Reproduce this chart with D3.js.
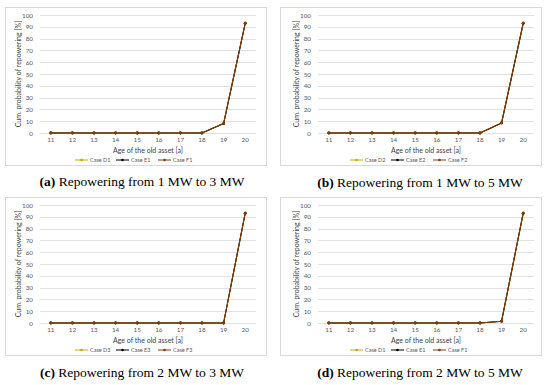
<!DOCTYPE html>
<html>
<head>
<meta charset="utf-8">
<script src="https://cdn.jsdelivr.net/npm/d3@7"></script>
<style>
	body{margin:0;background:#fff;}
	svg text{font-family:Lato, "Open Sans", sans-serif;}
</style>
</head>
<body>
<div id="chart"></div>
<script>
// ages on the x axis
var ages = [11, 12, 13, 14, 15, 16, 17, 18, 19, 20];
var yTicks = [0, 10, 20, 30, 40, 50, 60, 70, 80, 90, 100];

// cumulative probability of repowering [%]
var caseD1 = [0, 0, 0, 0, 0, 0, 0, 0, 8, 93];
var caseE1 = [0, 0, 0, 0, 0, 0, 0, 0, 8, 93];
var caseF1 = [0, 0, 0, 0, 0, 0, 0, 0, 8, 93];

var caseD2 = [0, 0, 0, 0, 0, 0, 0, 0, 8.5, 93];
var caseE2 = [0, 0, 0, 0, 0, 0, 0, 0, 8.5, 93];
var caseF2 = [0, 0, 0, 0, 0, 0, 0, 0, 8.5, 93];

var caseD3 = [0, 0, 0, 0, 0, 0, 0, 0, 0, 93];
var caseE3 = [0, 0, 0, 0, 0, 0, 0, 0, 0, 93];
var caseF3 = [0, 0, 0, 0, 0, 0, 0, 0, 0, 93];

var caseD1b = [0, 0, 0, 0, 0, 0, 0, 0, 1.5, 93];
var caseE1b = [0, 0, 0, 0, 0, 0, 0, 0, 1.5, 93];
var caseF1b = [0, 0, 0, 0, 0, 0, 0, 0, 1.5, 93];

var legendA = ["Case D1", "Case E1", "Case F1"];
var legendB = ["Case D2", "Case E2", "Case F2"];
var legendC = ["Case D3", "Case E3", "Case F3"];
var legendD = ["Case D1", "Case E1", "Case F1"];

var captionLetters = ["(a)", "(b)", "(c)", "(d)"];
var captionTexts = [" Repowering from 1 MW to 3 MW", " Repowering from 1 MW to 5 MW",
	" Repowering from 2 MW to 3 MW", " Repowering from 2 MW to 5 MW"];

var seriesColors = ["#c9a800", "#000000", "#843c0c"];

var panels = [
	{x: 5, y: 7, ml: 35, cx: 142, cy: 186, series: [caseD1, caseE1, caseF1], legend: legendA},
	{x: 280, y: 7, ml: 38, cx: 420, cy: 187, series: [caseD2, caseE2, caseF2], legend: legendB},
	{x: 5, y: 197, ml: 35, cx: 142, cy: 377, series: [caseD3, caseE3, caseF3], legend: legendC},
	{x: 280, y: 197, ml: 38, cx: 420, cy: 377, series: [caseD1b, caseE1b, caseF1b], legend: legendD}
];

var W = 550, H = 385;
var boxW = 261, boxH = 158;

var svg = d3.select("#chart").append("svg")
	.attr("width", W).attr("height", H);

panels.forEach(function(p, k){
	var g = svg.append("g").attr("transform", "translate(" + p.x + "," + p.y + ")");

	g.append("rect")
		.attr("x", 0.5).attr("y", 0.5)
		.attr("width", boxW).attr("height", boxH)
		.attr("fill", "#fff")
		.attr("stroke", "#d9d9d9");

	var left = p.ml, right = p.ml + 216, top = 8, bottom = 126;

	var x = d3.scaleBand().domain(ages).range([left, right]);
	var y = d3.scaleLinear().domain([0, 100]).range([bottom, top]);

	// gridlines
	g.append("g").selectAll("line")
		.data(yTicks)
		.enter().append("line")
		.attr("x1", left).attr("x2", right)
		.attr("y1", function(d){ return Math.round(y(d)) + 0.5; })
		.attr("y2", function(d){ return Math.round(y(d)) + 0.5; })
		.attr("stroke", "#d9d9d9")
		.attr("stroke-width", 0.8);

	// y axis labels
	var yAxis = d3.axisLeft(y).tickValues(yTicks).tickSize(0).tickPadding(7);
	var ya = g.append("g").attr("transform", "translate(" + left + ",0)").call(yAxis);
	ya.select(".domain").remove();
	ya.selectAll("text").attr("fill", "#595959").style("font-size", "6.3px");

	// x axis labels
	var xAxis = d3.axisBottom(x).tickSize(0).tickPadding(5);
	var xa = g.append("g").attr("transform", "translate(0," + bottom + ")").call(xAxis);
	xa.select(".domain").remove();
	xa.selectAll("text").attr("fill", "#595959").style("font-size", "6.3px");

	g.append("text")
		.attr("x", (left + right) / 2).attr("y", 146)
		.attr("text-anchor", "middle")
		.attr("fill", "#404040")
		.style("font-size", "7px")
		.text("Age of the old asset [a]");

	g.append("text")
		.attr("transform", "translate(" + (p.ml - 19) + "," + ((top + bottom) / 2) + ") rotate(-90)")
		.attr("text-anchor", "middle")
		.attr("fill", "#404040")
		.style("font-size", "7px")
		.text("Cum. probability of repowering [%]");

	var line = d3.line()
		.x(function(d, i){ return x(ages[i]) + x.bandwidth() / 2; })
		.y(function(d){ return y(d); });

	p.series.forEach(function(s, j){
		var sg = g.append("g");
		sg.append("path")
			.attr("d", line(s))
			.attr("fill", "none")
			.attr("stroke", seriesColors[j])
			.attr("stroke-width", 1.1)
			.attr("stroke-linejoin", "round");
		sg.selectAll("circle")
			.data(s)
			.enter().append("circle")
			.attr("cx", function(d, i){ return x(ages[i]) + x.bandwidth() / 2; })
			.attr("cy", function(d){ return y(d); })
			.attr("r", 1.4)
			.attr("fill", seriesColors[j]);
	});

	// legend
	var lx = [70, 111, 153];
	var lg = g.append("g").attr("transform", "translate(0," + 153 + ")");
	p.legend.forEach(function(name, j){
		lg.append("line")
			.attr("x1", lx[j]).attr("x2", lx[j] + 13)
			.attr("y1", 0).attr("y2", 0)
			.attr("stroke", seriesColors[j]).attr("stroke-width", 1);
		lg.append("circle")
			.attr("cx", lx[j] + 6.5).attr("cy", 0).attr("r", 1.3)
			.attr("fill", seriesColors[j]);
		lg.append("text")
			.attr("x", lx[j] + 15).attr("y", 0)
			.attr("dy", "0.35em")
			.attr("fill", "#595959")
			.style("font-size", "5.5px")
			.text(name);
	});

	// caption, fitted to the width seen in the picture
	var cap = svg.append("text")
		.attr("x", p.cx)
		.attr("y", p.cy)
		.attr("text-anchor", "start")
		.style("font-family", "'Liberation Serif', 'DejaVu Serif', serif")
		.style("font-size", "13.5px")
		.attr("fill", "#000");
	cap.append("tspan").style("font-weight", "bold").text(captionLetters[k]);
	cap.append("tspan").text(captionTexts[k]);
	var w = cap.node().getComputedTextLength();
	cap.attr("x", p.cx - w / 2);
});
</script>
</body>
</html>
